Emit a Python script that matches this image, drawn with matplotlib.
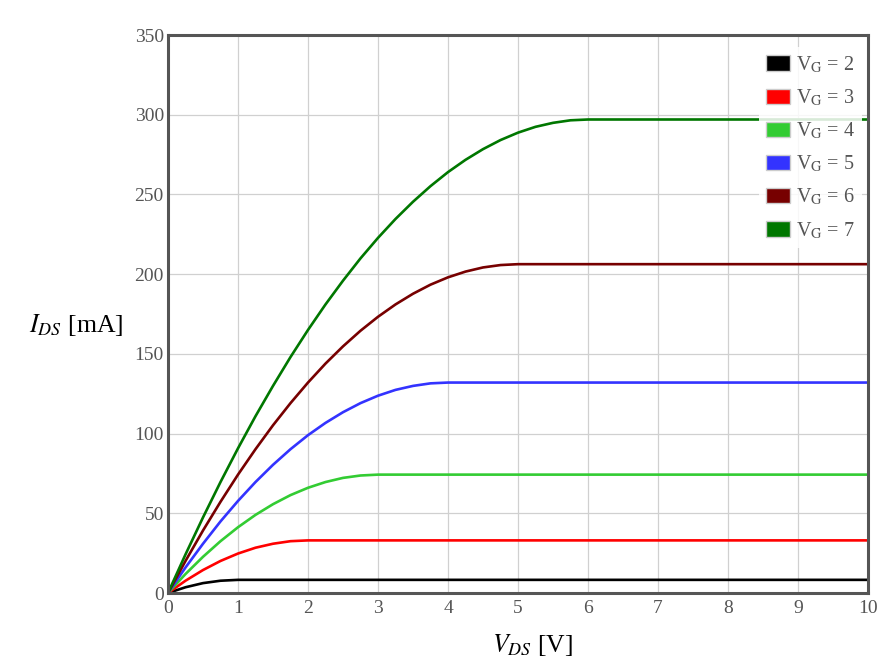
import matplotlib
matplotlib.use("Agg")
import matplotlib.pyplot as plt
from matplotlib.patches import Patch

plt.rcParams['font.family'] = ['Liberation Serif', 'DejaVu Serif']
plt.rcParams['mathtext.fontset'] = 'stix'

# V_DS sample points (V)
vds = [0, 0.25, 0.5, 0.75, 1, 1.25, 1.5, 1.75, 2, 2.25, 2.5, 2.75, 3, 3.25, 3.5,
       3.75, 4, 4.25, 4.5, 4.75, 5, 5.25, 5.5, 5.75, 6, 10]

vg_labels = ["2", "3", "4", "5", "6", "7"]
colors = ["#000000", "#ff0000", "#33cc33", "#3333ff", "#770000", "#007700"]

ids_vg2 = [0, 3.6, 6.2, 7.7, 8.25, 8.25, 8.25, 8.25, 8.25, 8.25, 8.25, 8.25, 8.25,
           8.25, 8.25, 8.25, 8.25, 8.25, 8.25, 8.25, 8.25, 8.25, 8.25, 8.25, 8.25, 8.25]
ids_vg3 = [0, 7.7, 14.4, 20.1, 24.75, 28.4, 30.9, 32.5, 33, 33, 33, 33, 33, 33, 33,
           33, 33, 33, 33, 33, 33, 33, 33, 33, 33, 33]
ids_vg4 = [0, 11.9, 22.7, 32.5, 41.25, 49.0, 55.7, 61.4, 66, 69.6, 72.2, 73.7, 74.25,
           74.25, 74.25, 74.25, 74.25, 74.25, 74.25, 74.25, 74.25, 74.25, 74.25, 74.25,
           74.25, 74.25]
ids_vg5 = [0, 16.0, 30.9, 44.9, 57.75, 69.6, 80.4, 90.2, 99, 106.7, 113.4, 119.1,
           123.75, 127.4, 129.9, 131.5, 132, 132, 132, 132, 132, 132, 132, 132, 132, 132]
ids_vg6 = [0, 20.1, 39.2, 57.2, 74.25, 90.2, 105.2, 119.1, 132, 143.9, 154.7, 164.5,
           173.25, 181.0, 187.7, 193.4, 198, 201.6, 204.2, 205.7, 206.25, 206.25,
           206.25, 206.25, 206.25, 206.25]
ids_vg7 = [0, 24.2, 47.4, 69.6, 90.75, 110.9, 129.9, 148.0, 165, 181.0, 195.9, 209.9,
           222.75, 234.6, 245.4, 255.2, 264, 271.7, 278.4, 284.1, 288.75, 292.4, 294.9,
           296.5, 297, 297]
series = [ids_vg2, ids_vg3, ids_vg4, ids_vg5, ids_vg6, ids_vg7]

fig = plt.figure(figsize=(8.82, 6.66), dpi=100)
ax = fig.add_axes([168/882, 1-593/666, 700/882, 558/666])

for ys, c in zip(series, colors):
    ax.plot(vds, ys, color=c, lw=1.9, solid_joinstyle='round', zorder=3)

ax.set_xlim(0, 10)
ax.set_ylim(0, 350)
ax.set_xticks(range(0, 11))
ax.set_yticks(range(0, 351, 50))
ax.grid(True, color='#d0d0d0', lw=0.9)
ax.set_axisbelow(True)
for s in ax.spines.values():
    s.set_color('#555555')
    s.set_linewidth(2.2)
    s.set_zorder(10)
ax.tick_params(colors='#555555', labelsize=14, length=0, pad=5)
ax.tick_params(axis='y', pad=3)

handles = [Patch(facecolor=c, edgecolor='#cccccc', lw=1.0) for c in colors]
labels = [r"V$_\mathrm{G}$ = " + v for v in vg_labels]
leg = ax.legend(handles, labels, loc='upper right', bbox_to_anchor=(0.991, 0.978),
                frameon=True, fontsize=14.5, handlelength=1.15, handleheight=0.8,
                handletextpad=0.3, labelspacing=0.62, borderpad=0.35,
                borderaxespad=0.0, labelcolor='#555555')
leg.get_frame().set_facecolor('white')
leg.get_frame().set_alpha(0.85)
leg.get_frame().set_edgecolor('none')
leg.get_frame().set_boxstyle('square', pad=0)

fig.text(76/882, 1-325/666, r"$I_{DS}$ [mA]", fontsize=18.5, ha='center', va='center')
fig.text(533/882, 1-645/666, r"$V_{DS}$ [V]", fontsize=18.5, ha='center', va='center')

fig.savefig("out.png", dpi=100)
